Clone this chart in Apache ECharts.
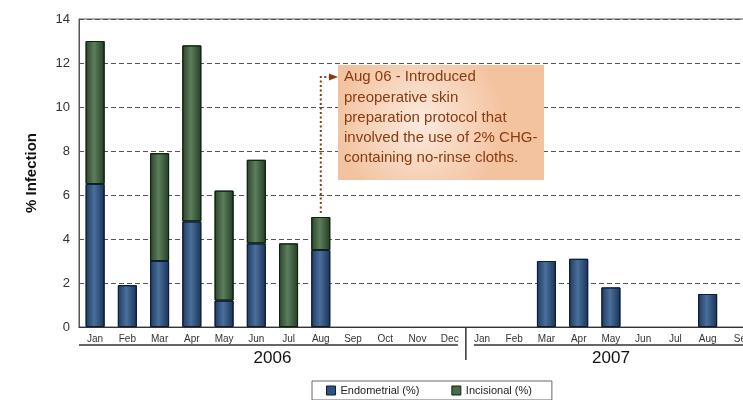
<!DOCTYPE html>
<html>
<head>
<meta charset="utf-8">
<script src="https://cdn.jsdelivr.net/npm/echarts@6/dist/echarts.min.js"></script>
<style>
  html, body { margin: 0; padding: 0; background: #fff; }
  #chart { width: 743px; height: 400px; }
</style>
</head>
<body>
<div id="chart"></div>
<script>
// month labels and the year each block belongs to
var months2006 = ["Jan", "Feb", "Mar", "Apr", "May", "Jun", "Jul", "Aug", "Sep", "Oct", "Nov", "Dec"];
var months2007 = ["Jan", "Feb", "Mar", "Apr", "May", "Jun", "Jul", "Aug", "Se"];
var years = ["2006", "2007"];
var yTicks = [0, 2, 4, 6, 8, 10, 12, 14];

// % infection per month (null = no bar)
var endometrial = [6.5, 1.9, 3.0, 4.8, 1.2, 3.8, null, 3.5, null, null, null, null,
                   null, null, 3.0, 3.1, 1.8, null, null, 1.5, null];
var incisional = [6.5, null, 4.9, 8.0, 5.0, 3.8, 3.8, 1.5, null, null, null, null,
                  null, null, null, null, null, null, null, null, null];

var noteText = "Aug 06 - Introduced\npreoperative skin\npreparation protocol that\ninvolved the use of 2% CHG-\ncontaining no-rinse cloths.";

// unique keys so duplicate month names don't clash on the category axis
var categories = [];
var labelOf = {};
months2006.forEach(function (m, i) { var k = "2006-" + i; categories.push(k); labelOf[k] = m; });
months2007.forEach(function (m, i) { var k = "2007-" + i; categories.push(k); labelOf[k] = m; });

var chart = echarts.init(document.getElementById("chart"));

function barGrad(edge, mid, edge2) {
  return new echarts.graphic.LinearGradient(0, 0, 1, 0, [
    { offset: 0, color: edge },
    { offset: 0.45, color: mid },
    { offset: 1, color: edge2 }
  ]);
}

var font = "'Liberation Sans', Arial, sans-serif";
var narrow = "'Liberation Sans Narrow', 'Liberation Sans', Arial, sans-serif";

chart.setOption({
  animation: false,
  textStyle: { fontFamily: font },
  grid: {
    left: 79,
    top: 19,
    height: 308,
    width: 677,
    outerBoundsMode: "none",
    show: true,
    borderColor: "#555",
    borderWidth: 1,
    containLabel: false
  },
  legend: {
    left: 312,
    top: 381,
    padding: [4, 20, 4, 14],
    itemGap: 32,
    itemWidth: 9,
    itemHeight: 9,
    borderColor: "#666",
    borderWidth: 1,
    icon: "rect",
    textStyle: { fontSize: 11, color: "#222", fontFamily: font },
    data: [
      { name: "Endometrial (%)", itemStyle: { color: "#2f5381", borderColor: "#0c1e38", borderWidth: 1 } },
      { name: "Incisional (%)", itemStyle: { color: "#4a6b49", borderColor: "#0e230f", borderWidth: 1 } }
    ]
  },
  xAxis: {
    type: "category",
    data: categories,
    axisLine: { lineStyle: { color: "#333", width: 1 } },
    axisTick: { show: false },
    axisLabel: {
      interval: 0,
      fontSize: 10,
      color: "#333",
      margin: 7,
      fontFamily: narrow,
      formatter: function (v) { return labelOf[v]; }
    }
  },
  yAxis: {
    type: "value",
    min: yTicks[0],
    max: yTicks[yTicks.length - 1],
    interval: 2,
    name: "% Infection",
    nameLocation: "middle",
    nameGap: 40,
    nameRotate: 90,
    nameTextStyle: { fontSize: 15, fontWeight: "bold", color: "#111", fontFamily: font },
    axisLine: { show: true, lineStyle: { color: "#555" } },
    axisTick: { show: false },
    axisLabel: { fontSize: 13, color: "#333", margin: 9 },
    splitLine: { lineStyle: { color: "#555", type: [5, 3], width: 1 } }
  },
  series: [
    {
      name: "Endometrial (%)",
      type: "bar",
      stack: "inf",
      barWidth: 19,
      data: endometrial,
      itemStyle: {
        color: barGrad("#1d3a63", "#4a6f9a", "#18335a"),
        borderColor: "#0c1e38",
        borderWidth: 1
      }
    },
    {
      name: "Incisional (%)",
      type: "bar",
      stack: "inf",
      barWidth: 19,
      data: incisional,
      itemStyle: {
        color: barGrad("#29472a", "#5d7d5c", "#223e23"),
        borderColor: "#0e230f",
        borderWidth: 1
      }
    }
  ]
});

function px(idx, val) {
  return chart.convertToPixel({ xAxisIndex: 0, yAxisIndex: 0 }, [idx, val]);
}

var n06 = months2006.length;
var first06 = px(0, 0), last06 = px(n06 - 1, 0);
var first07 = px(n06, 0), last07 = px(categories.length - 1, 0);
var step = first07[0] - last06[0];
var sepX = (last06[0] + first07[0]) / 2;
var baseY = first06[1];
var augIdx = 7;
var augTop = px(augIdx, (endometrial[augIdx] || 0) + (incisional[augIdx] || 0));
var lineY = baseY + 18;

var noteColor = "#8a3a10";
var arrowY = 77;

chart.setOption({
  graphic: [
    // under-label lines for each year block
    { type: "line", shape: { x1: first06[0] - step / 2, y1: lineY, x2: sepX - 8, y2: lineY },
      style: { stroke: "#333", lineWidth: 1.5 } },
    { type: "line", shape: { x1: sepX + 8, y1: lineY, x2: 760, y2: lineY },
      style: { stroke: "#333", lineWidth: 1.5 } },
    { type: "line", shape: { x1: sepX, y1: baseY, x2: sepX, y2: baseY + 33 },
      style: { stroke: "#333", lineWidth: 1.5 } },
    { type: "text", x: (first06[0] + last06[0]) / 2, y: baseY + 31,
      style: { text: years[0], fill: "#111", align: "center", verticalAlign: "middle", font: "17px " + font } },
    { type: "text", x: (first07[0] + last07[0]) / 2, y: baseY + 31,
      style: { text: years[1], fill: "#111", align: "center", verticalAlign: "middle", font: "17px " + font } },
    // annotation box
    { type: "rect", shape: { x: 338, y: 65, width: 206, height: 115 },
      style: {
        fill: new echarts.graphic.RadialGradient(0.4, 0.5, 0.75, [
          { offset: 0, color: "#fcebdf" },
          { offset: 1, color: "#f3c29f" }
        ])
      } },
    { type: "text", x: 344, y: 67,
      style: { text: noteText, fill: noteColor, font: "15px " + font, lineHeight: 20.3 } },
    // dotted leader from the Aug 06 bar to the note
    { type: "polyline", shape: { points: [[augTop[0], augTop[1] - 4], [augTop[0], arrowY], [331, arrowY]] },
      style: { stroke: noteColor, lineWidth: 2, lineDash: [2, 2.5], fill: null } },
    { type: "polygon", shape: { points: [[329, arrowY - 3.5], [338, arrowY], [329, arrowY + 3.5]] },
      style: { fill: noteColor } }
  ]
});
</script>
</body>
</html>
